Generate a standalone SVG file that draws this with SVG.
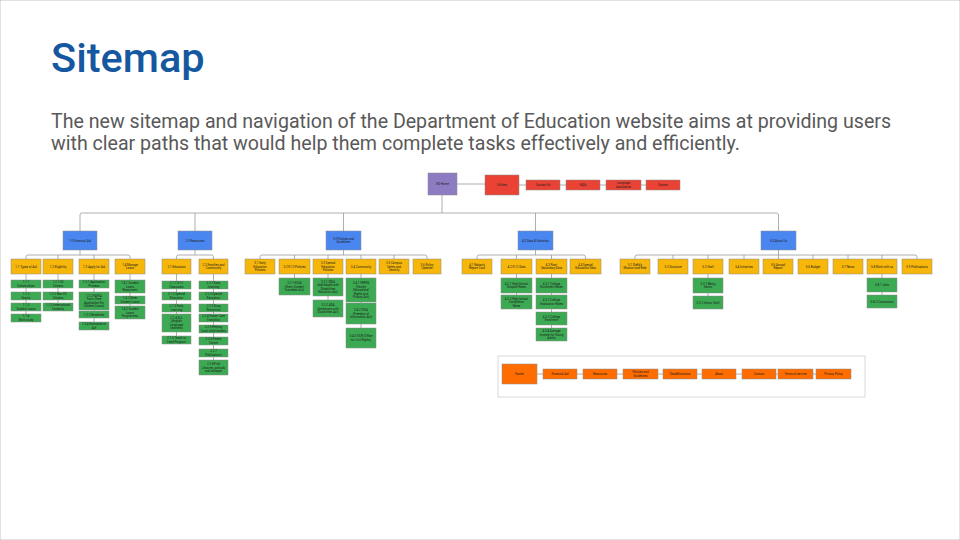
<svg xmlns="http://www.w3.org/2000/svg" width="960" height="540" viewBox="0 0 960 540">
<style>
.title{font-family:Roboto,"Liberation Sans",Arial,sans-serif;font-size:41.5px;font-weight:500;fill:#15589f}
.body{font-family:Roboto,"Liberation Sans",Arial,sans-serif;font-size:19.6px;fill:#595959}
rect{stroke:#8c8c8c;stroke-width:0.5}
.p{fill:#8e7cc3}.r{fill:#ea4335}.b{fill:#4a86f0}.y{fill:#f6b70a}.g{fill:#3ca953}.o{fill:#ff6d01}
.t{font-family:Roboto,"Liberation Sans",Arial,sans-serif;font-size:3px;fill:#1e1e1e;text-anchor:middle}
.c{fill:none;stroke:#9a9a9a;stroke-width:0.8}
</style>
<rect x="0" y="0" width="960" height="540" fill="#ffffff" stroke="none"/>
<text class="title" x="51" y="72">Sitemap</text>
<text class="body" x="51" y="128">The new sitemap and navigation of the Department of Education website aims at providing users</text>
<text class="body" x="51" y="150">with clear paths that would help them complete tasks effectively and efficiently.</text>

<rect id="footer-frame" x="498" y="356" width="367" height="41" fill="#ffffff" style="stroke:#cfcfcf;stroke-width:0.8"/>

<g id="connectors" class="c">
<path d="M457 184H485M519 185H526M560 185H566M600 185H606M641 185H646"/>
<path d="M442 195V213M80 231V215Q80 213 82 213H776.5Q778.5 213 778.5 215V231M195 213V231M343.5 213V231M535.5 213V231"/>
<path d="M80 250V255M26 259V257Q26 255 28 255H128Q130 255 130 257V259M58 255V259M94 255V259M26 274V314M58 274V303M94 274V322M130 274V306"/>
<path d="M195 250V255M176.5 259V257Q176.5 255 178.5 255H211.5Q213.5 255 213.5 257V259M176.5 274V336M213.5 274V360"/>
<path d="M343.5 250V255M260 259V257Q260 255 262 255H425Q427 255 427 257V259M294.5 255V259M328 255V259M361 255V259M394 255V259M294.5 274V278M328 274V300M361 274V328"/>
<path d="M535.5 250V255M477 259V257Q477 255 479 255H583.5Q585.5 255 585.5 257V259M516.5 255V259M551.5 255V259M516.5 274V295M551.5 274V328"/>
<path d="M778.5 250V259M635 259V257Q635 255 637 255H915Q917 255 917 257V259M673 255V259M708 255V259M744 255V259M813 255V259M848 255V259M882 255V259M708 274V296M882 274V295"/>
<path d="M537 374H816"/>
</g>

<g id="home"><rect class="p" x="428" y="173" width="29" height="22"/><text class="t" x="442.5" y="185.1">ED Home</text></g>
<g id="utilities"><rect class="r" x="485" y="175" width="34" height="20"/><text class="t" x="502" y="186.1">Utilities</text></g>
<g id="u-contact"><rect class="r" x="526" y="180" width="34" height="10"/><text class="t" x="543" y="186.1">Contact Us</text></g>
<g id="u-faqs"><rect class="r" x="566" y="180" width="34" height="10"/><text class="t" x="583" y="186.1">FAQs</text></g>
<g id="u-lang"><rect class="r" x="606" y="180" width="35" height="10"/><text class="t" x="623.5" y="184.35">Language</text><text class="t" x="623.5" y="187.85">Assistance</text></g>
<g id="u-donate"><rect class="r" x="646" y="180" width="34" height="10"/><text class="t" x="663" y="186.1">Donate</text></g>

<g id="n1"><rect class="b" x="63" y="231" width="34" height="19"/><text class="t" x="80" y="241.6">1.0 Financial Aid</text></g>
<g id="n2"><rect class="b" x="178" y="231" width="34" height="19"/><text class="t" x="195" y="241.6">2.0 Resources</text></g>
<g id="n3"><rect class="b" x="326" y="231" width="35" height="19"/><text class="t" x="343.5" y="239.85">3.0 Policies and</text><text class="t" x="343.5" y="243.35">Guidelines</text></g>
<g id="n4"><rect class="b" x="518" y="231" width="35" height="19"/><text class="t" x="535.5" y="241.6">4.0 Data &amp; Statistics</text></g>
<g id="n5"><rect class="b" x="761" y="231" width="35" height="19"/><text class="t" x="778.5" y="241.6">5.0 About Us</text></g>

<g id="n1-1"><rect class="y" x="11" y="259" width="30" height="15"/><text class="t" x="26" y="267.6">1.1 Types of Aid</text></g>
<g id="n1-2"><rect class="y" x="43" y="259" width="30" height="15"/><text class="t" x="58" y="267.6">1.2 Eligibility</text></g>
<g id="n1-3"><rect class="y" x="79" y="259" width="30" height="15"/><text class="t" x="94" y="267.6">1.3 Apply for Aid</text></g>
<g id="n1-4"><rect class="y" x="115" y="259" width="30" height="15"/><text class="t" x="130" y="265.85">1.4 Manage</text><text class="t" x="130" y="269.35">Loans</text></g>

<g id="n1-1-1"><rect class="g" x="11" y="280" width="30" height="8"/><text class="t" x="26" y="283.35">1.1.1</text><text class="t" x="26" y="286.85">Scholarships</text></g>
<g id="n1-1-2"><rect class="g" x="11" y="292" width="30" height="8"/><text class="t" x="26" y="295.35">1.1.2</text><text class="t" x="26" y="298.85">Grants</text></g>
<g id="n1-1-3"><rect class="g" x="11" y="303" width="30" height="8"/><text class="t" x="26" y="306.35">1.1.3</text><text class="t" x="26" y="309.85">Student Loans</text></g>
<g id="n1-1-4"><rect class="g" x="11" y="314" width="30" height="8"/><text class="t" x="26" y="317.35">1.1.4</text><text class="t" x="26" y="320.85">Work-study</text></g>
<g id="n1-2-1"><rect class="g" x="43" y="280" width="30" height="8"/><text class="t" x="58" y="283.35">1.2.1 US</text><text class="t" x="58" y="286.85">Citizens</text></g>
<g id="n1-2-2"><rect class="g" x="43" y="292" width="30" height="8"/><text class="t" x="58" y="295.35">1.2.2 Non-US</text><text class="t" x="58" y="298.85">Citizens</text></g>
<g id="n1-2-3"><rect class="g" x="43" y="303" width="30" height="8"/><text class="t" x="58" y="306.35">1.2.3 International</text><text class="t" x="58" y="309.85">Students</text></g>
<g id="n1-3-1"><rect class="g" x="79" y="280" width="30" height="8"/><text class="t" x="94" y="283.35">1.3.1 Application</text><text class="t" x="94" y="286.85">Process</text></g>
<g id="n1-3-2"><rect class="g" x="79" y="292" width="30" height="18"/><text class="t" x="94" y="296.85">1.3.2 FAFSA</text><text class="t" x="94" y="300.35">Form (Free</text><text class="t" x="94" y="303.85">Application For</text><text class="t" x="94" y="307.35">Student Loans)</text></g>
<g id="n1-3-3"><rect class="g" x="79" y="311" width="30" height="7"/><text class="t" x="94" y="315.6">1.3.3 Deadlines</text></g>
<g id="n1-3-4"><rect class="g" x="79" y="322" width="30" height="8"/><text class="t" x="94" y="325.35">1.3.4 Estimates of</text><text class="t" x="94" y="328.85">Aid</text></g>
<g id="n1-4-1"><rect class="g" x="115" y="280" width="30" height="13"/><text class="t" x="130" y="284.1">1.4.1 Student</text><text class="t" x="130" y="287.6">Loans</text><text class="t" x="130" y="291.1">Repayment</text></g>
<g id="n1-4-2"><rect class="g" x="115" y="296" width="30" height="8"/><text class="t" x="130" y="299.35">1.4.2 Defer</text><text class="t" x="130" y="302.85">Student Loans</text></g>
<g id="n1-4-3"><rect class="g" x="115" y="306" width="30" height="13"/><text class="t" x="130" y="310.1">1.4.3 Student</text><text class="t" x="130" y="313.6">Loans</text><text class="t" x="130" y="317.1">Forgiveness</text></g>

<g id="n2-1"><rect class="y" x="162" y="259" width="29" height="15"/><text class="t" x="176.5" y="267.6">2.1 Education</text></g>
<g id="n2-2"><rect class="y" x="199" y="259" width="29" height="15"/><text class="t" x="213.5" y="265.85">2.2 Families and</text><text class="t" x="213.5" y="269.35">Community</text></g>
<g id="n2-1-1"><rect class="g" x="162" y="281" width="29" height="8"/><text class="t" x="176.5" y="284.35">2.1.1 K-12</text><text class="t" x="176.5" y="287.85">Classroom</text></g>
<g id="n2-1-2"><rect class="g" x="162" y="292" width="29" height="8"/><text class="t" x="176.5" y="295.35">2.1.2 Special</text><text class="t" x="176.5" y="298.85">Education</text></g>
<g id="n2-1-3"><rect class="g" x="162" y="304" width="29" height="8"/><text class="t" x="176.5" y="307.35">2.1.3 Early</text><text class="t" x="176.5" y="310.85">Learning</text></g>
<g id="n2-1-4"><rect class="g" x="162" y="314" width="29" height="18"/><text class="t" x="176.5" y="318.85">2.1.4 ELL</text><text class="t" x="176.5" y="322.35">(English</text><text class="t" x="176.5" y="325.85">Language</text><text class="t" x="176.5" y="329.35">Learners)</text></g>
<g id="n2-1-5"><rect class="g" x="162" y="336" width="29" height="8"/><text class="t" x="176.5" y="339.35">2.1.5 Teach to</text><text class="t" x="176.5" y="342.85">Lead Program</text></g>
<g id="n2-2-1"><rect class="g" x="199" y="281" width="29" height="8"/><text class="t" x="213.5" y="284.35">2.2.1 Early</text><text class="t" x="213.5" y="287.85">Learning</text></g>
<g id="n2-2-2"><rect class="g" x="199" y="292" width="29" height="8"/><text class="t" x="213.5" y="295.35">2.2.2 Special</text><text class="t" x="213.5" y="298.85">Education</text></g>
<g id="n2-2-3"><rect class="g" x="199" y="304" width="29" height="8"/><text class="t" x="213.5" y="307.35">2.2.3 Drug</text><text class="t" x="213.5" y="310.85">Prevention</text></g>
<g id="n2-2-4"><rect class="g" x="199" y="314" width="29" height="8"/><text class="t" x="213.5" y="317.35">2.2.4 Foster Care</text><text class="t" x="213.5" y="320.85">Transition</text></g>
<g id="n2-2-5"><rect class="g" x="199" y="325" width="29" height="8"/><text class="t" x="213.5" y="328.35">2.2.5 Helping</text><text class="t" x="213.5" y="331.85">Local child centers</text></g>
<g id="n2-2-6"><rect class="g" x="199" y="337" width="29" height="8"/><text class="t" x="213.5" y="340.35">2.2.6 Parent</text><text class="t" x="213.5" y="343.85">Centre</text></g>
<g id="n2-2-7"><rect class="g" x="199" y="349" width="29" height="8"/><text class="t" x="213.5" y="352.35">2.2.7</text><text class="t" x="213.5" y="355.85">Publications</text></g>
<g id="n2-2-8"><rect class="g" x="199" y="360" width="29" height="15"/><text class="t" x="213.5" y="365.1">2.2.8 Find</text><text class="t" x="213.5" y="368.6">Libraries, schools</text><text class="t" x="213.5" y="372.1">and colleges</text></g>

<g id="n3-1"><rect class="y" x="245" y="259" width="30" height="15"/><text class="t" x="260" y="264.1">3.1 Early</text><text class="t" x="260" y="267.6">Education</text><text class="t" x="260" y="271.1">Policies</text></g>
<g id="n3-2"><rect class="y" x="279" y="259" width="31" height="15"/><text class="t" x="294.5" y="267.6">3.2 K-12 Policies</text></g>
<g id="n3-3"><rect class="y" x="313" y="259" width="30" height="15"/><text class="t" x="328" y="264.1">3.3 Special</text><text class="t" x="328" y="267.6">Education</text><text class="t" x="328" y="271.1">Policies</text></g>
<g id="n3-4"><rect class="y" x="346" y="259" width="30" height="15"/><text class="t" x="361" y="267.6">3.4 Community</text></g>
<g id="n3-5"><rect class="y" x="379" y="259" width="30" height="15"/><text class="t" x="394" y="264.1">3.5 Campus</text><text class="t" x="394" y="267.6">Safety and</text><text class="t" x="394" y="271.1">Security</text></g>
<g id="n3-6"><rect class="y" x="413" y="259" width="28" height="15"/><text class="t" x="427" y="265.85">3.6 Policy</text><text class="t" x="427" y="269.35">Updates</text></g>
<g id="n3-2-1"><rect class="g" x="279" y="278" width="31" height="17"/><text class="t" x="294.5" y="284.1">3.2.1 ESSA</text><text class="t" x="294.5" y="287.6">(Every Student</text><text class="t" x="294.5" y="291.1">Succeeds Act)</text></g>
<g id="n3-3-1"><rect class="g" x="313" y="278" width="30" height="18"/><text class="t" x="328" y="282.85">3.3.1 IDEA</text><text class="t" x="328" y="286.35">(Individuals with</text><text class="t" x="328" y="289.85">Disabilities</text><text class="t" x="328" y="293.35">Education Act)</text></g>
<g id="n3-3-2"><rect class="g" x="313" y="300" width="30" height="17"/><text class="t" x="328" y="306.1">3.3.2 ADA</text><text class="t" x="328" y="309.6">(Americans with</text><text class="t" x="328" y="313.1">Disabilities Act)</text></g>
<g id="n3-4-1"><rect class="g" x="346" y="278" width="30" height="24"/><text class="t" x="361" y="284.1">3.4.1 FERPA</text><text class="t" x="361" y="287.6">(Family</text><text class="t" x="361" y="291.1">Educational</text><text class="t" x="361" y="294.6">Rights and</text><text class="t" x="361" y="298.1">Privacy Act)</text></g>
<g id="n3-4-2"><rect class="g" x="346" y="303" width="30" height="21"/><text class="t" x="361" y="311.1">3.4.2 FOIA</text><text class="t" x="361" y="314.6">(Freedom of</text><text class="t" x="361" y="318.1">Information Act)</text></g>
<g id="n3-4-3"><rect class="g" x="346" y="328" width="30" height="20"/><text class="t" x="361" y="337.35">3.4.3 OCR (Office</text><text class="t" x="361" y="340.85">for Civil Rights)</text></g>

<g id="n4-1"><rect class="y" x="462" y="259" width="30" height="15"/><text class="t" x="477" y="265.85">4.1 Nation's</text><text class="t" x="477" y="269.35">Report Card</text></g>
<g id="n4-2"><rect class="y" x="501" y="259" width="31" height="15"/><text class="t" x="516.5" y="267.6">4.2 K-12 Data</text></g>
<g id="n4-3"><rect class="y" x="536" y="259" width="31" height="15"/><text class="t" x="551.5" y="265.85">4.3 Post-</text><text class="t" x="551.5" y="269.35">Secondary Data</text></g>
<g id="n4-4"><rect class="y" x="570" y="259" width="31" height="15"/><text class="t" x="585.5" y="265.85">4.4 Special</text><text class="t" x="585.5" y="269.35">Education Data</text></g>
<g id="n4-2-1"><rect class="g" x="501" y="278" width="31" height="15"/><text class="t" x="516.5" y="284.85">4.2.1 High School</text><text class="t" x="516.5" y="288.35">Dropout Rates</text></g>
<g id="n4-2-2"><rect class="g" x="501" y="295" width="31" height="14"/><text class="t" x="516.5" y="299.6">4.2.2 High School</text><text class="t" x="516.5" y="303.1">Completion</text><text class="t" x="516.5" y="306.6">Rates</text></g>
<g id="n4-3-1"><rect class="g" x="536" y="278" width="31" height="15"/><text class="t" x="551.5" y="284.85">4.3.1 College</text><text class="t" x="551.5" y="288.35">Enrollment Rates</text></g>
<g id="n4-3-2"><rect class="g" x="536" y="295" width="31" height="14"/><text class="t" x="551.5" y="301.25">4.3.2 College</text><text class="t" x="551.5" y="304.75">Graduation Rates</text></g>
<g id="n4-3-3"><rect class="g" x="536" y="312" width="31" height="13"/><text class="t" x="551.5" y="317.85">4.3.3 College</text><text class="t" x="551.5" y="321.35">Enrolment</text></g>
<g id="n4-3-4"><rect class="g" x="536" y="328" width="31" height="13"/><text class="t" x="551.5" y="332.1">4.3.4 Average</text><text class="t" x="551.5" y="335.6">Income for Young</text><text class="t" x="551.5" y="339.1">Adults</text></g>

<g id="n5-1"><rect class="y" x="620" y="259" width="30" height="15"/><text class="t" x="635" y="265.85">5.1 DoEd's</text><text class="t" x="635" y="269.35">Mission and Role</text></g>
<g id="n5-2"><rect class="y" x="658" y="259" width="30" height="15"/><text class="t" x="673" y="267.6">5.2 Structure</text></g>
<g id="n5-3"><rect class="y" x="693" y="259" width="30" height="15"/><text class="t" x="708" y="267.6">5.3 Staff</text></g>
<g id="n5-4"><rect class="y" x="729" y="259" width="30" height="15"/><text class="t" x="744" y="267.6">5.4 Initiatives</text></g>
<g id="n5-5"><rect class="y" x="763" y="259" width="30" height="15"/><text class="t" x="778" y="265.85">5.5 Annual</text><text class="t" x="778" y="269.35">Report</text></g>
<g id="n5-6"><rect class="y" x="798" y="259" width="30" height="15"/><text class="t" x="813" y="267.6">5.6 Budget</text></g>
<g id="n5-7"><rect class="y" x="833" y="259" width="30" height="15"/><text class="t" x="848" y="267.6">5.7 News</text></g>
<g id="n5-8"><rect class="y" x="867" y="259" width="30" height="15"/><text class="t" x="882" y="267.6">5.8 Work with us</text></g>
<g id="n5-9"><rect class="y" x="902" y="259" width="30" height="15"/><text class="t" x="917" y="267.6">5.9 Publications</text></g>
<g id="n5-3-1"><rect class="g" x="693" y="278" width="30" height="15"/><text class="t" x="708" y="284.85">5.3.1 Being</text><text class="t" x="708" y="288.35">Senior</text></g>
<g id="n5-3-2"><rect class="g" x="693" y="296" width="30" height="13"/><text class="t" x="708" y="303.6">5.3.2 Senior Staff</text></g>
<g id="n5-8-1"><rect class="g" x="867" y="278" width="30" height="14"/><text class="t" x="882" y="286.1">5.8.1 Jobs</text></g>
<g id="n5-8-2"><rect class="g" x="867" y="295" width="30" height="13"/><text class="t" x="882" y="302.6">5.8.2 Contractors</text></g>

<g id="f-footer"><rect class="o" x="502" y="364" width="35" height="20"/><text class="t" x="519.5" y="375.1">Footer</text></g>
<g id="f-aid"><rect class="o" x="543" y="369" width="34" height="10"/><text class="t" x="560" y="375.1">Financial Aid</text></g>
<g id="f-res"><rect class="o" x="583" y="369" width="34" height="10"/><text class="t" x="600" y="375.1">Resources</text></g>
<g id="f-pol"><rect class="o" x="623" y="369" width="35" height="10"/><text class="t" x="640.5" y="373.35">Policies and</text><text class="t" x="640.5" y="376.85">Guidelines</text></g>
<g id="f-data"><rect class="o" x="663" y="369" width="34" height="10"/><text class="t" x="680" y="375.1">Data&amp;Statistics</text></g>
<g id="f-about"><rect class="o" x="702" y="369" width="34" height="10"/><text class="t" x="719" y="375.1">About</text></g>
<g id="f-contact"><rect class="o" x="742" y="369" width="34" height="10"/><text class="t" x="759" y="375.1">Contact</text></g>
<g id="f-terms"><rect class="o" x="778" y="369" width="35" height="10"/><text class="t" x="795.5" y="375.1">Terms of service</text></g>
<g id="f-privacy"><rect class="o" x="816" y="369" width="35" height="10"/><text class="t" x="833.5" y="375.1">Privacy Policy</text></g>
</svg>
